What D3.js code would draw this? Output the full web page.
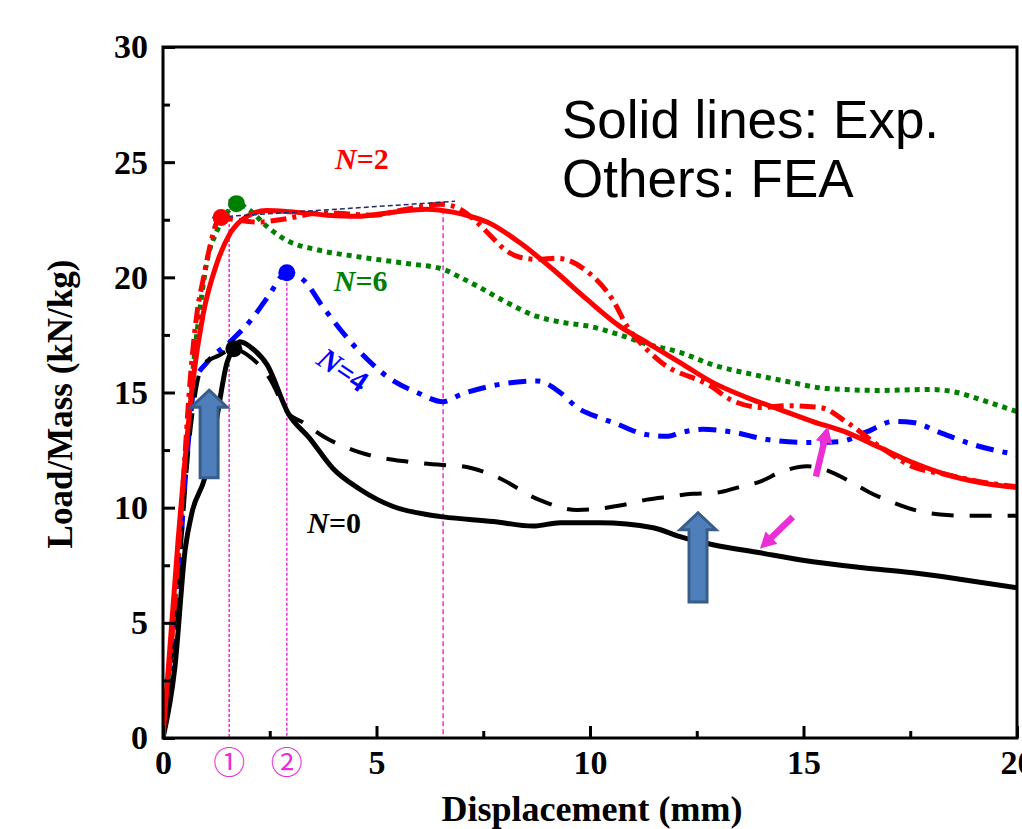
<!DOCTYPE html>
<html>
<head>
<meta charset="utf-8">
<script src="https://cdn.jsdelivr.net/npm/d3@7"></script>
<style>
  body { margin: 0; background: #fff; }
  svg { display: block; }
</style>
</head>
<body>
<div id="chart"></div>
<script>
// data: [displacement (mm), load/mass (kN/kg)]
const exp0 = [[0,0],[0.28,3.1],[0.52,8.2],[0.68,9.8],[0.98,11.3],[1.25,13.8],[1.5,16.3],[1.65,16.9],[1.8,17.2],[2.1,16.9],[2.44,16.2],[2.93,14.1],[3.44,13.0],[3.98,11.7],[4.61,10.8],[5.39,10.05],[6.18,9.7],[6.56,9.6],[7.73,9.4],[8.67,9.2],[9.3,9.35],[10.23,9.35],[11.48,9.13],[12.11,8.74],[12.88,8.39],[13.98,8.04],[15.22,7.65],[16.39,7.39],[17.56,7.17],[18.74,6.87],[20,6.52]];
const fea0 = [[0,0],[0.3,5.5],[0.65,13.5],[0.93,16.2],[1.3,16.6],[1.66,16.9],[2.0,16.6],[2.5,15.6],[2.93,14.1],[3.28,13.7],[3.75,13.1],[4.61,12.4],[5.71,12.0],[6.56,11.85],[7.0,11.8],[7.8,11.35],[8.8,10.35],[9.7,9.9],[10.7,10.09],[11.33,10.35],[11.87,10.48],[12.4,10.6],[12.97,10.65],[13.45,10.87],[13.98,11.13],[14.5,11.57],[15.08,11.8],[15.62,11.57],[16.1,11.13],[16.56,10.65],[17.1,10.22],[17.66,9.87],[18.2,9.7],[18.74,9.65],[20,9.65]];
const fea4 = [[0,0],[0.3,5.5],[0.6,13],[0.75,15.5],[1.03,16.3],[1.57,17.2],[2.04,18.1],[2.44,19.1],[2.9,20.2],[3.28,19.9],[3.75,18.7],[4.54,16.9],[5.32,15.6],[5.95,15.0],[6.56,14.6],[6.96,14.9],[7.73,15.3],[8.76,15.5],[9.3,15.0],[9.7,14.35],[10.23,13.9],[10.54,13.7],[11.33,13.17],[11.83,13.1],[12.11,13.25],[12.65,13.4],[13.28,13.3],[14.15,12.96],[15.15,12.83],[15.85,12.87],[16.49,13.3],[17.1,13.74],[17.56,13.7],[18.2,13.26],[18.97,12.74],[20,12.3]];
const fea6 = [[0,0],[0.28,6.0],[0.52,11.5],[0.7,15.9],[0.87,18.7],[1.03,20.7],[1.26,22.0],[1.5,22.8],[1.72,23.2],[2.04,22.9],[2.44,22.2],[2.9,21.6],[3.6,21.2],[4.54,20.9],[5.71,20.6],[6.56,20.35],[6.96,20.0],[7.38,19.6],[7.96,19.0],[8.76,18.3],[9.37,18.04],[10.0,17.87],[10.7,17.5],[11.33,17.1],[12.11,16.74],[12.88,16.2],[13.82,15.78],[14.61,15.48],[15.55,15.17],[16.79,15.09],[17.96,15.13],[18.6,15.0],[19.13,14.7],[20,14.17]];
const fea2 = [[0,0],[0.3,6.5],[0.47,11.0],[0.63,15.4],[0.8,18.5],[0.94,19.9],[1.1,21.35],[1.26,22.4],[1.36,22.6],[1.7,22.5],[2.2,22.4],[2.74,22.5],[3.75,22.8],[4.92,22.7],[5.71,22.96],[6.49,23.17],[6.79,23.09],[7.35,22.4],[7.59,21.96],[8.06,21.13],[8.36,20.87],[8.76,20.78],[9.23,20.83],[9.93,20.26],[10.54,19.0],[10.87,17.87],[11.33,16.87],[11.64,16.35],[12.88,15.22],[13.28,14.7],[14.05,14.35],[14.61,14.43],[15.39,14.35],[16.02,13.7],[16.79,12.65],[17.56,11.78],[18.36,11.43],[19.13,11.13],[20,10.91]];
const exp2 = [[0,0],[0.35,8.5],[0.7,15.5],[0.94,18.4],[1.26,20.6],[1.57,21.9],[1.97,22.65],[2.44,22.9],[2.97,22.85],[3.84,22.7],[4.54,22.65],[5.39,22.83],[6.18,22.96],[6.79,22.83],[7.19,22.65],[7.59,22.4],[8.36,21.5],[9.13,20.35],[9.93,19.04],[10.7,17.87],[11.33,17.17],[12.11,16.3],[12.88,15.43],[13.68,14.78],[14.45,14.26],[15.22,13.74],[16.02,13.26],[16.79,12.61],[17.56,11.96],[18.36,11.43],[19.13,11.09],[20,10.87]];

const peaks = [
  { x: 1.36, y: 22.6, color: 'red' },
  { x: 1.72, y: 23.2, color: 'green' },
  { x: 2.9, y: 20.2, color: 'blue' },
  { x: 1.66, y: 16.9, color: 'black' }
];
const markLines = [ { x: 1.55, top: 23.4, dash: '3,2' }, { x: 2.9, top: 20.2, dash: '3,2' }, { x: 6.56, top: 23.3, dash: '5,3' } ];
const circledNums = [ { x: 1.55, t: '①' }, { x: 2.9, t: '②' } ];
const plateau = [[1.15, 22.6], [6.84, 23.3]];
const xMajor = [0, 5, 10, 15, 20];
const xMinor = [2.5, 7.5, 12.5, 17.5];
const yMajor = [0, 5, 10, 15, 20, 25, 30];
const yMinor = [2.5, 7.5, 12.5, 17.5, 22.5, 27.5];
const blockArrows = [ { from: [1.08, 11.3], to: [1.08, 15.1] }, { from: [12.53, 5.9], to: [12.53, 9.78] } ];
const pinkArrows = [ { from: [15.29, 11.35], to: [15.57, 13.52] }, { from: [14.75, 9.6], to: [13.98, 8.22] } ];

const W = 1022, H = 829;
const svg = d3.select('#chart').append('svg').attr('width', W).attr('height', H);

const x = d3.scaleLinear().domain([0, 20]).range([163, 1017]);
const y = d3.scaleLinear().domain([0, 30]).range([738, 47]);

const serif = '"Liberation Serif", "Times New Roman", serif';
const magenta = '#ea2fd6';

// clip so nothing leaks out of the frame
svg.append('clipPath').attr('id', 'clip').append('rect')
  .attr('x', x(0)).attr('y', y(30)).attr('width', x(20) - x(0)).attr('height', y(0) - y(30));

const plot = svg.append('g').attr('clip-path', 'url(#clip)');

const line = d3.line().x(d => x(d[0])).y(d => y(d[1])).curve(d3.curveMonotoneX);

// magenta guide lines
markLines.forEach(m => {
  plot.append('line')
    .attr('x1', x(m.x)).attr('x2', x(m.x))
    .attr('y1', y(m.top)).attr('y2', y(0))
    .attr('stroke', magenta).attr('stroke-width', 1.5)
    .attr('stroke-dasharray', m.dash);
});

const series = [
  { d: fea6, color: 'green', w: 5, dash: '5,5' },
  { d: fea4, color: 'blue', w: 5, dash: '18,9,5,9' },
  { d: fea0, color: 'black', w: 4, dash: '22,16' },
  { d: fea2, color: 'red', w: 5, dash: '16,6,4,6' },
  { d: exp0, color: 'black', w: 5, dash: null },
  { d: exp2, color: 'red', w: 5, dash: null }
];
series.forEach(s => {
  plot.append('path').datum(s.d)
    .attr('d', line)
    .attr('fill', 'none')
    .attr('stroke', s.color)
    .attr('stroke-width', s.w)
    .attr('stroke-dasharray', s.dash)
    .attr('stroke-linejoin', 'round');
});

// thin navy plateau line
plot.append('line')
  .attr('x1', x(plateau[0][0])).attr('y1', y(plateau[0][1]))
  .attr('x2', x(plateau[1][0])).attr('y2', y(plateau[1][1]))
  .attr('stroke', '#1f2d6b').attr('stroke-width', 1.5).attr('stroke-dasharray', '5,3');

// peak markers
plot.selectAll('circle.peak').data(peaks).enter().append('circle')
  .attr('cx', d => x(d.x)).attr('cy', d => y(d.y)).attr('r', 8.5)
  .attr('fill', d => d.color);

// block arrow polygon from tail to tip (pixel space)
function arrowPoints(p0, p1, sw, hw, hl) {
  const dx = p1[0] - p0[0], dy = p1[1] - p0[1];
  const len = Math.hypot(dx, dy);
  const ux = dx / len, uy = dy / len, nx = -uy, ny = ux;
  const bx = p1[0] - ux * hl, by = p1[1] - uy * hl;
  const pts = [
    [p1[0], p1[1]],
    [bx + nx * hw, by + ny * hw],
    [bx + nx * sw, by + ny * sw],
    [p0[0] + nx * sw, p0[1] + ny * sw],
    [p0[0] - nx * sw, p0[1] - ny * sw],
    [bx - nx * sw, by - ny * sw],
    [bx - nx * hw, by - ny * hw]
  ];
  return pts.map(p => p.join(',')).join(' ');
}

// blue block arrows
blockArrows.forEach(a => {
  svg.append('polygon')
    .attr('points', arrowPoints([x(a.from[0]), y(a.from[1])], [x(a.to[0]), y(a.to[1])], 9, 18, 17))
    .attr('fill', '#4f7fba').attr('stroke', '#385d8a').attr('stroke-width', 3);
});

// magenta arrows
pinkArrows.forEach(a => {
  svg.append('polygon')
    .attr('points', arrowPoints([x(a.from[0]), y(a.from[1])], [x(a.to[0]), y(a.to[1])], 3.2, 8.5, 16))
    .attr('fill', magenta);
});

// axes
svg.append('g').attr('transform', `translate(0,${y(0)})`)
  .call(d3.axisBottom(x).tickValues(xMajor).tickSizeInner(-12).tickSizeOuter(0).tickPadding(12));
svg.append('g').attr('transform', `translate(0,${y(0)})`)
  .call(d3.axisBottom(x).tickValues(xMinor).tickSizeInner(-7).tickSizeOuter(0).tickFormat(''));
svg.append('g').attr('transform', `translate(${x(0)},0)`)
  .call(d3.axisLeft(y).tickValues(yMajor).tickSizeInner(-12).tickSizeOuter(0).tickPadding(15));
svg.append('g').attr('transform', `translate(${x(0)},0)`)
  .call(d3.axisLeft(y).tickValues(yMinor).tickSizeInner(-7).tickSizeOuter(0).tickFormat(''));

svg.selectAll('.domain').remove();
svg.selectAll('.tick line').attr('stroke', '#000').attr('stroke-width', 3);
svg.selectAll('.tick text')
  .attr('fill', '#000')
  .style('font-family', serif).style('font-weight', 'bold').style('font-size', '34px');

// frame
svg.append('rect')
  .attr('x', x(0)).attr('y', y(30))
  .attr('width', x(20) - x(0)).attr('height', y(0) - y(30))
  .attr('fill', 'none').attr('stroke', '#000').attr('stroke-width', 3);

// circled numbers below the axis
svg.selectAll('text.cn').data(circledNums).enter().append('text')
  .attr('x', d => x(d.x)).attr('y', y(0) + 36)
  .attr('text-anchor', 'middle')
  .attr('fill', magenta)
  .style('font-family', '"Noto Sans CJK SC", "DejaVu Sans", sans-serif')
  .style('font-size', '32px')
  .text(d => d.t);

// axis titles
svg.append('text')
  .attr('x', (x(0) + x(20)) / 2 + 2).attr('y', 821)
  .attr('text-anchor', 'middle')
  .style('font-family', serif).style('font-weight', 'bold').style('font-size', '36px')
  .text('Displacement (mm)');
svg.append('text')
  .attr('transform', 'translate(72,404) rotate(-90)')
  .attr('text-anchor', 'middle')
  .style('font-family', serif).style('font-weight', 'bold').style('font-size', '35px')
  .text('Load/Mass (kN/kg)');

// note
const note = svg.append('text')
  .style('font-family', '"Liberation Sans", Arial, sans-serif').style('font-size', '53px').attr('fill', '#000');
note.append('tspan').attr('x', 562).attr('y', 138).text('Solid lines: Exp.');
note.append('tspan').attr('x', 562).attr('y', 197).text('Others: FEA');

// N labels
const nLabels = [
  { x: 4.03, y: 24.7, v: '2', color: 'red', rot: 0 },
  { x: 4.0, y: 19.4, v: '6', color: 'green', rot: 0 },
  { x: 4.22, y: 16.0, v: '4', color: 'blue', rot: 34 },
  { x: 3.38, y: 8.9, v: '0', color: 'black', rot: 0 }
];
nLabels.forEach(l => {
  const t = svg.append('text')
    .attr('transform', `translate(${x(l.x)},${y(l.y)}) rotate(${l.rot})`)
    .attr('text-anchor', l.rot ? 'middle' : 'start')
    .attr('dy', l.rot ? '0.35em' : 0)
    .attr('fill', l.color)
    .style('font-family', serif).style('font-weight', 'bold').style('font-size', '30px');
  t.append('tspan').style('font-style', 'italic').text('N');
  t.append('tspan').text('=' + l.v);
});
</script>
</body>
</html>
